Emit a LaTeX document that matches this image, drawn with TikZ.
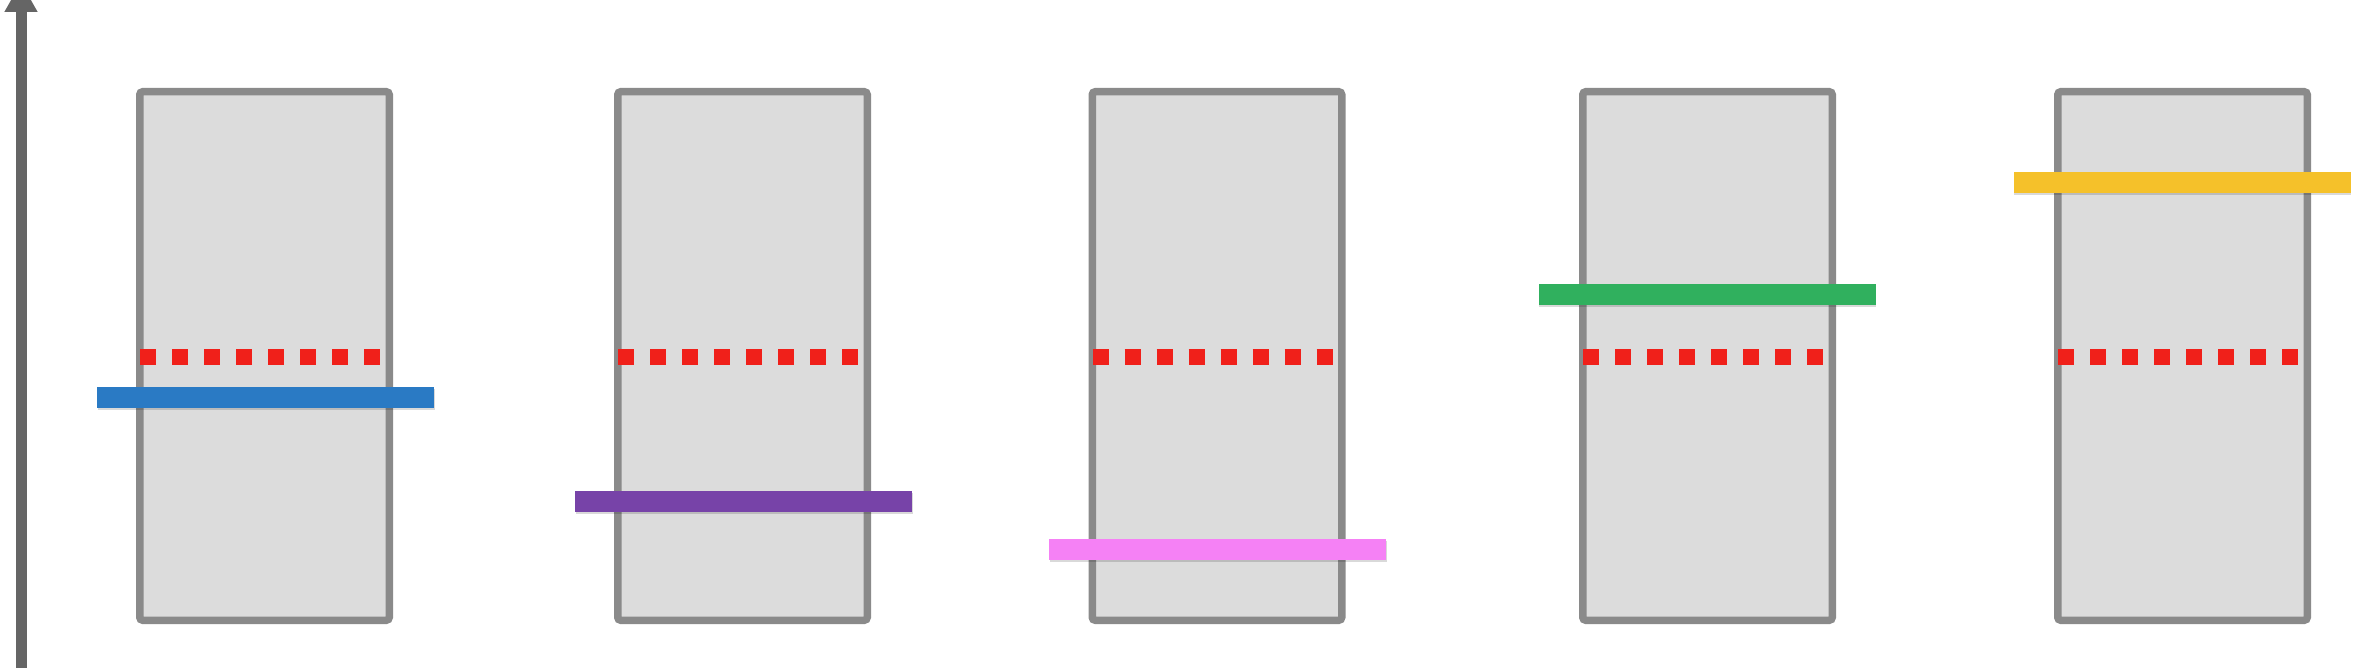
\documentclass[tikz,border=0pt]{standalone}
\usetikzlibrary{arrows.meta,shadows}
\definecolor{boxfill}{HTML}{DCDCDC}
\definecolor{boxline}{HTML}{8A8A8A}
\definecolor{axiscol}{HTML}{656565}
\definecolor{dotred}{HTML}{F0201A}
\definecolor{barblue}{HTML}{2A7AC4}
\definecolor{barpurple}{HTML}{7743A8}
\definecolor{barpink}{HTML}{F581F5}
\definecolor{bargreen}{HTML}{30B05E}
\definecolor{baryellow}{HTML}{F5C12A}
\tikzset{
  colbox/.style={draw=boxline, fill=boxfill, line width=7.5pt, rounded corners=3pt,
    minimum width=249.5pt, minimum height=528.5pt, inner sep=0pt,
    drop shadow={shadow xshift=0.5pt, shadow yshift=-3pt, opacity=.18, fill=black}},
  levelbar/.style={fill=#1, draw=none, minimum width=337pt, minimum height=21pt, inner sep=0pt,
    drop shadow={shadow xshift=0.5pt, shadow yshift=-2pt, opacity=.15, fill=black}},
  reddots/.style={draw=dotred, line width=16pt, dash pattern=on 16pt off 16pt, line cap=butt},
  axisline/.style={draw=axiscol, line width=11pt, -{Triangle[width=31pt,length=30pt]}}
}
\begin{document}
\begin{tikzpicture}[x=1pt,y=-1pt]
\useasboundingbox (0,0) rectangle (2356,668);
\clip (0,0) rectangle (2356,668);
% axis
\coordinate (axbot) at (21,690);
\coordinate (axtop) at (21,-18);
\draw[axisline] (axbot) -- (axtop);
% boxes
\node[colbox] (b1) at (264.5,356) {};
\node[colbox] (b2) at (742.5,356) {};
\node[colbox] (b3) at (1217,356) {};
\node[colbox] (b4) at (1707.5,356) {};
\node[colbox] (b5) at (2182.5,356) {};
% red dotted reference lines
\foreach \b in {b1,b2,b3,b4,b5}{
  \draw[reddots] ([xshift=-124.5pt,yshift=-1pt]\b.center) -- ([xshift=115.5pt,yshift=-1pt]\b.center);
}
% level bars
\node[levelbar=barblue]   (l1) at (265.5,397) {};
\node[levelbar=barpurple] (l2) at (743.5,501) {};
\node[levelbar=barpink]   (l3) at (1217.5,549.5) {};
\node[levelbar=bargreen]  (l4) at (1707,294.5) {};
\node[levelbar=baryellow] (l5) at (2182,183) {};
\end{tikzpicture}
\end{document}
